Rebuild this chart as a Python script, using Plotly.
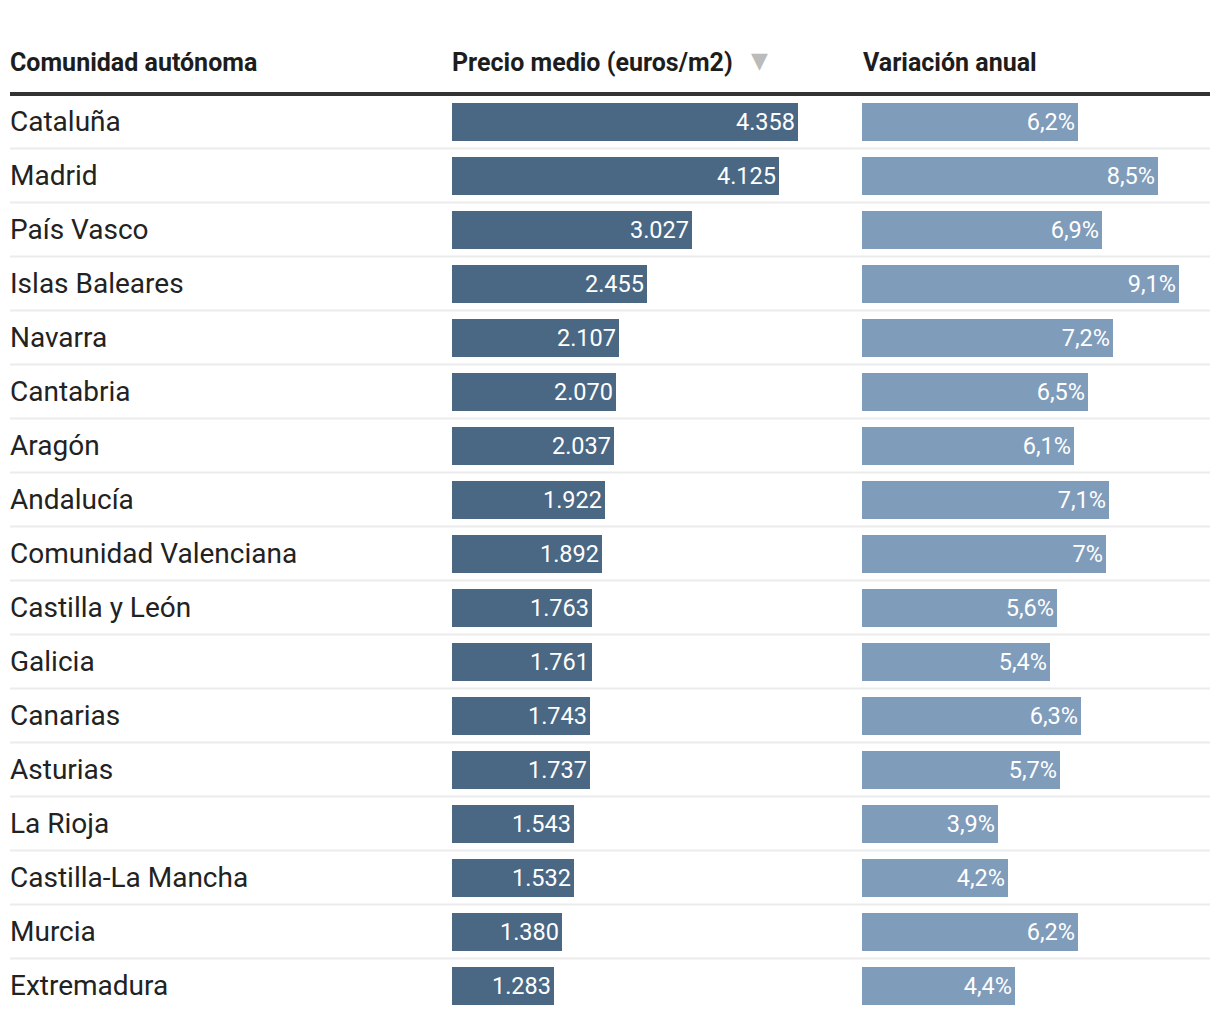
import plotly.graph_objects as go

regions = ["Cataluña", "Madrid", "País Vasco", "Islas Baleares", "Navarra", "Cantabria",
           "Aragón", "Andalucía", "Comunidad Valenciana", "Castilla y León", "Galicia",
           "Canarias", "Asturias", "La Rioja", "Castilla-La Mancha", "Murcia", "Extremadura"]
price = [4358, 4125, 3027, 2455, 2107, 2070, 2037, 1922, 1892, 1763, 1761, 1743, 1737,
         1543, 1532, 1380, 1283]
variation = [6.2, 8.5, 6.9, 9.1, 7.2, 6.5, 6.1, 7.1, 7.0, 5.6, 5.4, 6.3, 5.7, 3.9, 4.2, 6.2, 4.4]
headers = ["Comunidad autónoma", "Precio medio (euros/m2)", "Variación anual"]

W, H = 1220, 1022
OFF = 8  # page body margin
FONT = "Roboto"
DARK = "#4a6784"
LIGHT = "#7f9cbb"

n = len(regions)
ypos = list(range(n))
price_txt = [f"{v:,}".replace(",", ".") for v in price]
var_txt = [f"{v:g}".replace(".", ",") + "%" for v in variation]

def px(x):
    return (x - OFF) / W

def py(y):
    return 1 - (y - OFF) / H

fig = go.Figure()
fig.add_trace(go.Bar(
    x=price, y=ypos, orientation="h", xaxis="x", yaxis="y",
    marker=dict(color=DARK, line=dict(width=0)), width=0.72,
    text=price_txt, textposition="inside", insidetextanchor="end",
    textfont=dict(color="white", size=23.5, family=FONT), hoverinfo="skip",
))
fig.add_trace(go.Bar(
    x=variation, y=ypos, orientation="h", xaxis="x2", yaxis="y",
    marker=dict(color=LIGHT, line=dict(width=0)), width=0.72,
    text=var_txt, textposition="inside", insidetextanchor="end",
    textfont=dict(color="white", size=23.5, family=FONT), hoverinfo="skip",
))

annotations = []
for i, name in enumerate(regions):
    annotations.append(dict(x=px(8), y=i, xref="paper", yref="y", text=name,
                            showarrow=False, xanchor="left", yanchor="middle",
                            font=dict(family=FONT, size=28, color="#222")))
hx = [8, 450, 861]
for x, t in zip(hx, headers):
    annotations.append(dict(x=px(x), y=py(62), xref="paper", yref="paper",
                            text=f"<b>{t}</b>", showarrow=False, xanchor="left",
                            yanchor="middle", font=dict(family=FONT, size=25, color="#1d1d1d")))
annotations.append(dict(x=px(759), y=py(61), xref="paper", yref="paper", text="▼",
                        showarrow=False, xanchor="center", yanchor="middle",
                        font=dict(family="DejaVu Sans", size=22, color="#bbbbbb")))

shapes = []
for i in range(n - 1):
    shapes.append(dict(type="line", xref="paper", yref="y", x0=px(10), x1=px(1210),
                       y0=i + 0.5, y1=i + 0.5, line=dict(color="#ececec", width=2), layer="below"))
shapes.append(dict(type="line", xref="paper", yref="paper", x0=px(10), x1=px(1210),
                   y0=py(94), y1=py(94), line=dict(color="#333333", width=4)))

ax = dict(showgrid=False, zeroline=False, showticklabels=False, showline=False, fixedrange=True)
fig.update_layout(
    width=W, height=H, margin=dict(l=0, r=0, t=0, b=0),
    paper_bgcolor="white", plot_bgcolor="white", showlegend=False,
    bargap=0, font=dict(family=FONT),
    xaxis=dict(domain=[px(452), px(852)], range=[0, 5040], **ax),
    xaxis2=dict(domain=[px(862), px(1210)], range=[0, 10], anchor="y", **ax),
    yaxis=dict(domain=[py(1012.5), py(94.5)], range=[n - 0.5, -0.5], **ax),
    annotations=annotations, shapes=shapes,
)
fig.write_html("out.html")
